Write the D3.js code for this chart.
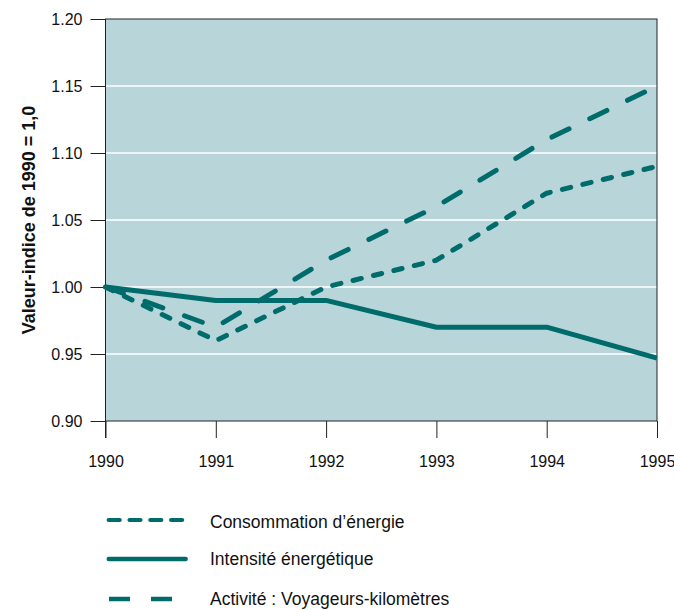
<!DOCTYPE html>
<html><head><meta charset="utf-8">
<script src="https://cdn.jsdelivr.net/npm/d3@7"></script>
<style>body{margin:0;background:#fff;}svg{display:block;font-family:Arial,"Liberation Sans",sans-serif;}</style>
</head><body><div id="chart"></div>
<script>
const years = [1990, 1991, 1992, 1993, 1994, 1995];
const yTicks = [0.90, 0.95, 1.00, 1.05, 1.10, 1.15, 1.20];
const consommation = [1.00, 0.96, 1.00, 1.02, 1.07, 1.09];
const intensite = [1.00, 0.99, 0.99, 0.97, 0.97, 0.947];
const activite = [1.00, 0.97, 1.02, 1.06, 1.11, 1.15];
const seriesNames = ["Consommation d’énergie", "Intensité énergétique", "Activité : Voyageurs-kilomètres"];

const W = 674, H = 610;
const m = {l: 105.5, r: 17, t: 19, b: 189};
const color = "#006b6b";
const font = "Arial, 'Liberation Sans', sans-serif";
const svg = d3.select("#chart").append("svg").attr("width", W).attr("height", H);
const x = d3.scaleLinear().domain([1990, 1995]).range([m.l, W - m.r]);
const y = d3.scaleLinear().domain([0.90, 1.20]).range([H - m.b, m.t]);

svg.append("rect").attr("x", x(1990)).attr("y", y(1.2)).attr("width", x(1995) - x(1990))
  .attr("height", y(0.9) - y(1.2)).attr("fill", "#b8d6da");

svg.append("g").selectAll("line").data(yTicks.slice(1, -1)).join("line")
  .attr("x1", x(1990)).attr("x2", x(1995)).attr("y1", d => y(d)).attr("y2", d => y(d))
  .attr("stroke", "#fff").attr("stroke-width", 1.5);

// frame
svg.append("rect").attr("x", x(1990)).attr("y", y(1.2)).attr("width", x(1995) - x(1990))
  .attr("height", y(0.9) - y(1.2)).attr("fill", "none").attr("stroke", "#222").attr("stroke-width", 1);

const yAxis = svg.append("g").attr("transform", `translate(${x(1990)},0)`)
  .call(d3.axisLeft(y).tickValues(yTicks).tickFormat(d3.format(".2f")).tickSize(15).tickPadding(8));
const xAxis = svg.append("g").attr("transform", `translate(0,${y(0.9)})`)
  .call(d3.axisBottom(x).tickValues(years).tickFormat(d3.format("d")).tickSize(17).tickPadding(18));
[yAxis, xAxis].forEach(a => {
  a.select(".domain").remove();
  a.selectAll("line").attr("stroke", "#222");
  a.selectAll("text").attr("font-size", 16).attr("fill", "#111").attr("font-family", font);
});
// left axis extension
svg.append("line").attr("x1", x(1990)).attr("x2", x(1990)).attr("y1", y(1.2)).attr("y2", y(0.9) + 17).attr("stroke", "#222");

svg.append("text").attr("transform", `translate(35,${(y(0.9) + y(1.2)) / 2}) rotate(-90)`)
  .attr("text-anchor", "middle").attr("font-size", 18).attr("font-weight", "bold").attr("fill", "#111")
  .attr("font-family", font).text("Valeur-indice de 1990 = 1,0");

const line = d3.line().x((d, i) => x(years[i])).y(d => y(d));
const styles = [
  {data: consommation, dash: "8.5,12.5", cap: "round"},
  {data: intensite, dash: null, cap: "butt"},
  {data: activite, dash: "19,23", cap: "round"}
];
const clipId = "clip";
svg.append("clipPath").attr("id", clipId).append("rect").attr("x", x(1990) - 4).attr("y", y(1.2))
  .attr("width", x(1995) - x(1990) + 4).attr("height", y(0.9) - y(1.2));
styles.forEach(s => {
  svg.append("path").datum(s.data).attr("d", line).attr("fill", "none").attr("stroke", color)
    .attr("stroke-width", 5).attr("stroke-dasharray", s.dash).attr("stroke-linecap", s.cap)
    .attr("stroke-linejoin", "round").attr("clip-path", `url(#${clipId})`);
});

const legY = [520, 559, 599];
const legX = [[108.7, 182.3], [108.7, 185.7], [109, 172]];
const legDash = ["11,9.8", null, "21,21"];
const legCap = ["round", "round", "butt"];
const legW = [4.2, 4.4, 4.7];
const legBase = [528, 565, 605];
seriesNames.forEach((n, i) => {
  svg.append("line").attr("x1", legX[i][0]).attr("x2", legX[i][1]).attr("y1", legY[i]).attr("y2", legY[i])
    .attr("stroke", color).attr("stroke-width", legW[i]).attr("stroke-dasharray", legDash[i])
    .attr("stroke-linecap", legCap[i]);
  svg.append("text").attr("x", 210).attr("y", legBase[i]).attr("font-size", 17.5).attr("fill", "#111")
    .attr("font-family", font).text(n);
});
</script></body></html>
